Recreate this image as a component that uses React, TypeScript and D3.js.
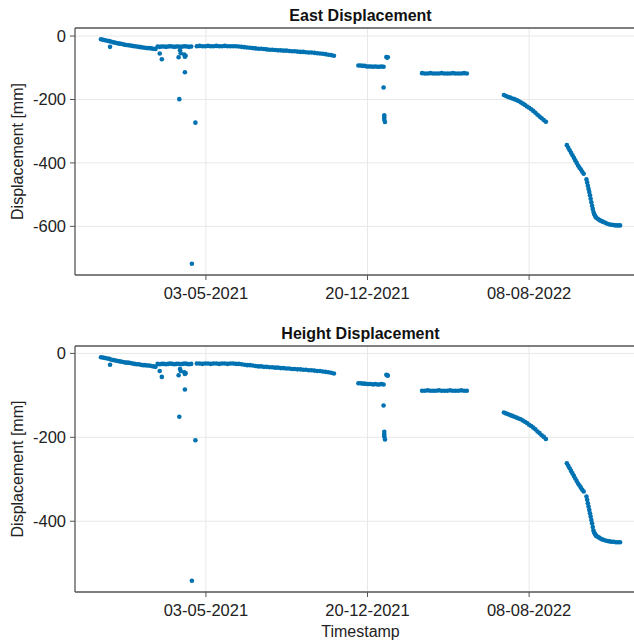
import React, { useEffect, useRef } from "react";
import * as d3 from "d3";

const width = 634;
const height = 643;

// days are counted from the first record, 04-12-2020
const firstRecord = new Date(2020, 11, 4);

const dayOffsets = [
  // first run
  0, 3, 6, 9, 12, 15, 18, 21, 24, 27, 30, 33, 36, 39, 42, 45, 48, 51, 54, 57, 60, 63, 66, 69, 72, 75, 78,
  81, 84, 87, 90, 93, 96, 99, 102, 105, 108, 111, 114, 117, 120, 123, 126, 129,
  // after the short gap
  137, 141, 145, 149, 153, 157, 161, 165, 169, 173,
  177, 181, 185, 189, 193, 197, 201, 205, 209, 213,
  217, 221, 225, 229, 233, 237, 241, 245, 249, 253,
  257, 261, 265, 269, 273, 277, 281, 285, 289, 293,
  297, 301, 305, 309, 313, 317, 321, 325, 329, 333,
  // december 2021
  368, 371, 374, 377, 380, 383, 386, 389, 392, 395, 398, 401, 404,
  // spring 2022
  459, 463, 467, 471, 475, 479, 483, 487, 491, 495, 499, 503, 507, 511, 515, 519, 523,
  // summer 2022
  576, 579, 582, 585, 588, 591, 594, 597, 600, 603, 606, 609, 612, 615, 618, 621, 624, 627, 630, 633, 636,
  666, 668, 670, 672, 674, 676, 678, 680, 682, 684, 686, 688, 690,
  694, 695, 696, 697, 698, 699, 700, 701, 702, 703, 704, 705, 706, 707, 708,
  710, 712, 714, 716, 718, 721, 724, 727, 730, 733, 736, 739, 742,
  // outliers
  13, 84, 87, 111, 112, 113, 114, 119, 120, 120, 121, 130, 135,
  404, 405, 405, 405, 406, 408, 409, 410,
];

const eastMm = [
  -10, -12, -13, -15, -16, -18, -20, -21, -23, -24, -25, -27, -28, -29, -30, -31, -32, -33, -34, -35, -36, -37, -38, -38, -39, -40, -41,
  -33, -34, -33, -33, -34, -33, -32, -33, -34, -33, -33, -34, -33, -32, -33, -34, -33,
  -32, -31, -32, -32, -31, -32, -32, -31, -32, -32,
  -31, -32, -32, -32, -32, -33, -34, -35, -36, -37,
  -38, -39, -40, -40, -41, -42, -43, -43, -44, -45,
  -45, -46, -46, -47, -48, -48, -49, -50, -50, -51,
  -52, -52, -53, -54, -55, -56, -57, -59, -60, -62,
  -93, -93, -94, -94, -96, -96, -96, -97, -96, -97, -97, -96, -97,
  -117, -118, -118, -117, -118, -118, -118, -117, -118, -118, -118, -117, -118, -118, -118, -117, -118,
  -186, -189, -192, -194, -197, -199, -202, -205, -209, -213, -217, -222, -226, -231, -236, -242, -248, -254, -259, -265, -270,
  -344, -352, -360, -368, -376, -384, -392, -400, -408, -415, -421, -428, -434,
  -452, -462, -472, -482, -492, -502, -513, -524, -535, -545, -555, -561, -566, -570, -573,
  -576, -579, -582, -584, -586, -589, -592, -594, -595, -596, -597, -597, -597,
  -34, -55, -73, -67, -199, -45, -54, -58, -65, -114, -62, -718, -273,
  -162, -250, -257, -264, -271, -66, -68, -67,
];

const heightMm = [
  -9, -10, -11, -12, -13, -15, -16, -17, -18, -19, -20, -21, -22, -22, -23, -24, -25, -26, -26, -27, -28, -28, -29, -29, -30, -31, -32,
  -25, -26, -25, -25, -26, -25, -24, -25, -26, -25, -25, -26, -25, -24, -25, -26, -25,
  -24, -24, -25, -24, -24, -25, -24, -24, -25, -24,
  -24, -25, -24, -24, -25, -25, -26, -27, -28, -28,
  -29, -30, -31, -31, -32, -32, -33, -33, -34, -34,
  -35, -35, -36, -36, -37, -37, -38, -38, -39, -39,
  -40, -40, -41, -42, -42, -43, -44, -45, -46, -48,
  -71, -71, -72, -72, -73, -73, -73, -74, -73, -74, -74, -73, -74,
  -89, -89, -88, -89, -89, -89, -88, -89, -89, -89, -88, -89, -89, -89, -88, -89, -89,
  -141, -143, -145, -147, -149, -151, -153, -155, -157, -160, -163, -166, -170, -173, -177, -181, -186, -190, -195, -199, -204,
  -262, -268, -274, -280, -286, -292, -298, -304, -310, -315, -320, -325, -329,
  -341, -349, -357, -365, -373, -381, -389, -397, -405, -414, -422, -427, -430, -433, -435,
  -437, -439, -441, -443, -444, -446, -447, -448, -449, -449, -450, -450, -450,
  -27, -42, -56, -52, -151, -37, -42, -45, -49, -86, -47, -542, -207,
  -124, -187, -193, -198, -205, -51, -52, -53,
];

const tickDates = ["2021-05-03", "2021-12-20", "2022-08-08"];
const eastTicks = [0, -200, -400, -600];
const heightTicks = [0, -200, -400];

const left = 75;
const right = 646; // axis runs a little past the window edge

const App = () => {
  const ref = useRef<SVGSVGElement>(null);

  useEffect(() => {
    if (!ref.current) return;
    const svg = d3.select(ref.current);
    svg.selectAll("*").remove();

    const dates = dayOffsets.map((d) => d3.timeDay.offset(firstRecord, d));
    const [t0, t1] = d3.extent(dates) as [Date, Date];
    const tPad = (t1.getTime() - t0.getTime()) * 0.05;
    const x = d3
      .scaleTime()
      .domain([new Date(t0.getTime() - tPad), new Date(t1.getTime() + tPad)])
      .range([left, right]);

    const parse = d3.timeParse("%Y-%m-%d");
    const xTicks = tickDates.map((s) => parse(s) as Date);
    const fmt = d3.timeFormat("%d-%m-%Y");

    const panels = [
      { title: "East Displacement", values: eastMm, ticks: eastTicks, top: 28, bottom: 275 },
      { title: "Height Displacement", values: heightMm, ticks: heightTicks, top: 346, bottom: 592 },
    ];

    const font = "'Liberation Sans', Arial, Helvetica, sans-serif";

    panels.forEach((p) => {
      const [vMin, vMax] = d3.extent(p.values) as [number, number];
      const vPad = (vMax - vMin) * 0.05;
      const y = d3.scaleLinear().domain([vMin - vPad, vMax + vPad]).range([p.bottom, p.top]);

      const g = svg.append("g");

      // grid
      g.selectAll(".gx")
        .data(xTicks)
        .enter()
        .append("line")
        .attr("x1", (d) => x(d))
        .attr("x2", (d) => x(d))
        .attr("y1", p.top)
        .attr("y2", p.bottom)
        .attr("stroke", "#e8e8e8")
        .attr("stroke-width", 1);

      g.selectAll(".gy")
        .data(p.ticks)
        .enter()
        .append("line")
        .attr("x1", left)
        .attr("x2", right)
        .attr("y1", (d) => y(d))
        .attr("y2", (d) => y(d))
        .attr("stroke", "#e8e8e8")
        .attr("stroke-width", 1);

      // points
      g.selectAll("circle")
        .data(p.values)
        .enter()
        .append("circle")
        .attr("cx", (d, i) => x(dates[i]))
        .attr("cy", (d) => y(d))
        .attr("r", 2.3)
        .attr("fill", "#0072b2");

      // spines
      const spine = "#555";
      g.append("line").attr("x1", left).attr("x2", left).attr("y1", p.top).attr("y2", p.bottom)
        .attr("stroke", spine).attr("stroke-width", 1.3);
      g.append("line").attr("x1", left).attr("x2", right).attr("y1", p.bottom).attr("y2", p.bottom)
        .attr("stroke", spine).attr("stroke-width", 1.3);
      g.append("line").attr("x1", left).attr("x2", right).attr("y1", p.top).attr("y2", p.top)
        .attr("stroke", spine).attr("stroke-width", 1.3);

      // x ticks
      g.selectAll(".tx")
        .data(xTicks)
        .enter()
        .append("line")
        .attr("x1", (d) => x(d))
        .attr("x2", (d) => x(d))
        .attr("y1", p.bottom)
        .attr("y2", p.bottom + 5)
        .attr("stroke", spine);

      g.selectAll(".lx")
        .data(xTicks)
        .enter()
        .append("text")
        .attr("x", (d) => x(d))
        .attr("y", p.bottom + 24)
        .attr("text-anchor", "middle")
        .style("font-family", font)
        .style("font-size", "16.5px")
        .attr("fill", "#222")
        .text((d) => fmt(d));

      // y ticks
      g.selectAll(".ty")
        .data(p.ticks)
        .enter()
        .append("line")
        .attr("x1", left - 5)
        .attr("x2", left)
        .attr("y1", (d) => y(d))
        .attr("y2", (d) => y(d))
        .attr("stroke", spine);

      g.selectAll(".ly")
        .data(p.ticks)
        .enter()
        .append("text")
        .attr("x", left - 9)
        .attr("y", (d) => y(d))
        .attr("dy", "0.36em")
        .attr("text-anchor", "end")
        .style("font-family", font)
        .style("font-size", "16.5px")
        .attr("fill", "#222")
        .text((d) => d);

      // axis label + title
      g.append("text")
        .attr("transform", `translate(23,${(p.top + p.bottom) / 2}) rotate(-90)`)
        .attr("text-anchor", "middle")
        .style("font-family", font)
        .style("font-size", "16px")
        .attr("fill", "#222")
        .text("Displacement [mm]");

      g.append("text")
        .attr("x", (left + right) / 2)
        .attr("y", p.top - 7)
        .attr("text-anchor", "middle")
        .style("font-family", font)
        .style("font-size", "16px")
        .style("font-weight", "bold")
        .attr("fill", "#111")
        .text(p.title);
    });

    svg.append("text")
      .attr("x", (left + right) / 2)
      .attr("y", 637)
      .attr("text-anchor", "middle")
      .style("font-family", font)
      .style("font-size", "16px")
      .attr("fill", "#222")
      .text("Timestamp");
  }, []);

  return (
    <svg
      ref={ref}
      width={width}
      height={height}
      style={{ position: "absolute", left: 0, top: 0, background: "#fff" }}
    />
  );
};

export default App;
